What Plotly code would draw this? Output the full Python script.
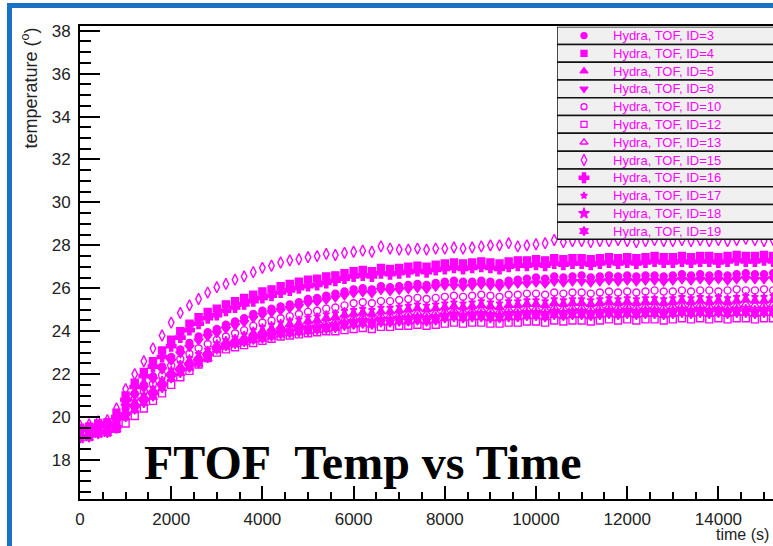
import plotly.graph_objects as go

# ---------------- data ----------------
time_s = [0, 200, 400, 600, 800, 1000, 1200, 1400, 1600, 1800,
          2000, 2200, 2400, 2600, 2800, 3000, 3200, 3400, 3600, 3800,
          4000, 4200, 4400, 4600, 4800, 5000, 5200, 5400, 5600, 5800,
          6000, 6200, 6400, 6600, 6800, 7000, 7200, 7400, 7600, 7800,
          8000, 8200, 8400, 8600, 8800, 9000, 9200, 9400, 9600, 9800,
          10000, 10200, 10400, 10600, 10800, 11000, 11200, 11400, 11600, 11800,
          12000, 12200, 12400, 12600, 12800, 13000, 13200, 13400, 13600, 13800,
          14000, 14200, 14400, 14600, 14800, 15000, 15200]

id3 = [19.3, 19.4, 19.55, 19.6, 19.9, 20.6, 21.1, 21.5, 21.9, 22.35,
       22.8, 23.15, 23.45, 23.75, 23.95, 24.1, 24.3, 24.45, 24.6, 24.8,
       24.95, 25.05, 25.15, 25.25, 25.35, 25.5, 25.55, 25.65, 25.75, 25.85,
       25.95, 26.0, 25.95, 26.1, 26.05, 26.1, 26.15, 26.2, 26.15, 26.25,
       26.3, 26.35, 26.3, 26.3, 26.35, 26.3, 26.25, 26.35, 26.4, 26.45,
       26.5, 26.45, 26.55, 26.5, 26.55, 26.6, 26.5, 26.55, 26.6, 26.55,
       26.6, 26.55, 26.6, 26.6, 26.55, 26.6, 26.65, 26.6, 26.65, 26.6,
       26.65, 26.6, 26.65, 26.7, 26.65, 26.65, 26.7]
id4 = [19.5, 19.55, 19.7, 19.75, 20.2, 21.0, 21.6, 22.1, 22.6, 23.1,
       23.6, 24.0, 24.35, 24.65, 24.9, 25.05, 25.25, 25.4, 25.55, 25.7,
       25.85, 25.95, 26.1, 26.2, 26.3, 26.4, 26.45, 26.55, 26.6, 26.7,
       26.8, 26.85, 26.8, 26.95, 26.9, 26.95, 27.0, 27.05, 27.0, 27.1,
       27.15, 27.2, 27.15, 27.2, 27.25, 27.2, 27.15, 27.25, 27.3, 27.3,
       27.35, 27.3, 27.4, 27.35, 27.4, 27.4, 27.35, 27.4, 27.45, 27.4,
       27.45, 27.4, 27.45, 27.5, 27.45, 27.45, 27.5, 27.45, 27.5, 27.5,
       27.45, 27.5, 27.55, 27.5, 27.5, 27.55, 27.5]
id5 = [19.1, 19.2, 19.35, 19.4, 19.6, 20.25, 20.65, 20.95, 21.25, 21.65,
       22.1, 22.35, 22.6, 22.8, 23.05, 23.35, 23.5, 23.6, 23.7, 23.9,
       24.0, 24.1, 24.2, 24.3, 24.35, 24.45, 24.5, 24.6, 24.65, 24.75,
       24.8, 24.85, 24.8, 24.9, 24.9, 24.95, 25.0, 25.05, 25.0, 25.05,
       25.1, 25.15, 25.1, 25.15, 25.2, 25.15, 25.1, 25.2, 25.2, 25.25,
       25.25, 25.2, 25.3, 25.25, 25.3, 25.3, 25.25, 25.3, 25.35, 25.3,
       25.35, 25.3, 25.35, 25.35, 25.3, 25.35, 25.4, 25.35, 25.4, 25.35,
       25.4, 25.35, 25.4, 25.45, 25.4, 25.4, 25.45]
id8 = [19.3, 19.35, 19.5, 19.55, 19.8, 20.5, 21.0, 21.35, 21.75, 22.2,
       22.6, 22.95, 23.25, 23.55, 23.75, 23.9, 24.1, 24.25, 24.4, 24.6,
       24.75, 24.85, 24.95, 25.05, 25.15, 25.3, 25.35, 25.45, 25.55, 25.65,
       25.75, 25.8, 25.75, 25.9, 25.85, 25.9, 25.95, 26.0, 25.95, 26.05,
       26.1, 26.1, 26.05, 26.1, 26.15, 26.1, 26.05, 26.15, 26.2, 26.2,
       26.25, 26.2, 26.3, 26.25, 26.3, 26.3, 26.25, 26.3, 26.35, 26.3,
       26.35, 26.3, 26.35, 26.35, 26.3, 26.35, 26.4, 26.35, 26.4, 26.35,
       26.4, 26.35, 26.4, 26.45, 26.4, 26.4, 26.45]
id10 = [19.2, 19.3, 19.45, 19.5, 19.7, 20.4, 20.85, 21.2, 21.55, 21.95,
        22.4, 22.7, 22.95, 23.2, 23.4, 23.6, 23.75, 23.9, 24.05, 24.25,
        24.4, 24.5, 24.6, 24.7, 24.8, 24.9, 24.95, 25.05, 25.1, 25.2,
        25.3, 25.35, 25.3, 25.4, 25.4, 25.45, 25.5, 25.55, 25.5, 25.55,
        25.6, 25.65, 25.6, 25.65, 25.7, 25.65, 25.6, 25.7, 25.7, 25.75,
        25.75, 25.7, 25.8, 25.75, 25.8, 25.8, 25.75, 25.8, 25.85, 25.8,
        25.85, 25.8, 25.85, 25.9, 25.85, 25.85, 25.9, 25.85, 25.9, 25.9,
        25.85, 25.9, 25.95, 25.9, 25.9, 25.95, 25.9]
id12 = [19.2, 19.25, 19.35, 19.4, 19.45, 19.7, 20.05, 20.4, 20.75, 21.1,
        21.5, 21.85, 22.15, 22.45, 22.75, 23.0, 23.15, 23.25, 23.35, 23.45,
        23.55, 23.65, 23.75, 23.8, 23.85, 23.9, 23.95, 24.0, 24.0, 24.05,
        24.1, 24.15, 24.1, 24.2, 24.2, 24.25, 24.25, 24.3, 24.25, 24.3,
        24.35, 24.4, 24.35, 24.4, 24.4, 24.35, 24.35, 24.4, 24.4, 24.45,
        24.45, 24.4, 24.5, 24.45, 24.5, 24.5, 24.45, 24.5, 24.55, 24.5,
        24.55, 24.5, 24.55, 24.55, 24.5, 24.55, 24.6, 24.55, 24.6, 24.55,
        24.6, 24.55, 24.6, 24.6, 24.55, 24.6, 24.6]
id13 = [19.1, 19.15, 19.3, 19.35, 19.55, 20.2, 20.55, 20.85, 21.15, 21.55,
        22.0, 22.25, 22.5, 22.7, 22.95, 23.25, 23.4, 23.5, 23.6, 23.75,
        23.85, 23.95, 24.05, 24.1, 24.2, 24.25, 24.3, 24.4, 24.45, 24.55,
        24.6, 24.65, 24.6, 24.7, 24.7, 24.75, 24.8, 24.85, 24.8, 24.85,
        24.9, 24.95, 24.9, 24.95, 25.0, 24.95, 24.9, 25.0, 25.0, 25.05,
        25.05, 25.0, 25.1, 25.05, 25.1, 25.1, 25.05, 25.1, 25.15, 25.1,
        25.15, 25.1, 25.15, 25.15, 25.1, 25.15, 25.2, 25.15, 25.2, 25.15,
        25.2, 25.15, 25.2, 25.25, 25.2, 25.2, 25.25]
id15 = [19.6, 19.65, 19.8, 19.85, 20.4, 21.3, 22.0, 22.6, 23.2, 23.8,
        24.4, 24.85, 25.2, 25.5, 25.8, 26.05, 26.2, 26.4, 26.55, 26.75,
        26.95, 27.05, 27.2, 27.3, 27.35, 27.45, 27.5, 27.6, 27.55, 27.65,
        27.7, 27.75, 27.7, 27.95, 27.85, 27.8, 27.8, 27.85, 27.8, 27.85,
        27.85, 27.9, 27.85, 27.9, 27.95, 28.0, 28.0, 28.1, 27.95, 28.0,
        28.05, 28.1, 28.25, 28.15, 28.2, 28.2, 28.15, 28.2, 28.2, 28.25,
        28.2, 28.15, 28.2, 28.25, 28.2, 28.2, 28.25, 28.2, 28.25, 28.2,
        28.25, 28.2, 28.25, 28.3, 28.25, 28.2, 28.25]
id16 = [19.4, 19.5, 19.6, 19.7, 20.0, 20.8, 21.4, 21.9, 22.35, 22.8,
        23.3, 23.7, 24.05, 24.35, 24.6, 24.75, 24.95, 25.1, 25.25, 25.4,
        25.55, 25.65, 25.8, 25.9, 26.0, 26.1, 26.15, 26.25, 26.35, 26.45,
        26.55, 26.6, 26.55, 26.7, 26.65, 26.7, 26.75, 26.8, 26.75, 26.85,
        26.9, 26.95, 26.9, 26.95, 27.0, 26.95, 26.9, 27.0, 27.05, 27.05,
        27.1, 27.05, 27.15, 27.1, 27.15, 27.15, 27.1, 27.15, 27.2, 27.15,
        27.2, 27.15, 27.2, 27.25, 27.2, 27.2, 27.25, 27.2, 27.25, 27.25,
        27.2, 27.25, 27.3, 27.25, 27.25, 27.3, 27.25]
id17 = [19.2, 19.25, 19.4, 19.45, 19.65, 20.35, 20.75, 21.05, 21.35, 21.75,
        22.2, 22.5, 22.75, 22.95, 23.15, 23.45, 23.6, 23.7, 23.85, 24.05,
        24.2, 24.3, 24.4, 24.5, 24.55, 24.65, 24.7, 24.8, 24.85, 24.95,
        25.0, 25.05, 25.0, 25.1, 25.1, 25.15, 25.2, 25.25, 25.2, 25.25,
        25.3, 25.35, 25.3, 25.35, 25.4, 25.35, 25.3, 25.4, 25.4, 25.45,
        25.45, 25.4, 25.5, 25.45, 25.5, 25.5, 25.45, 25.5, 25.55, 25.5,
        25.55, 25.5, 25.55, 25.55, 25.5, 25.55, 25.6, 25.55, 25.6, 25.55,
        25.6, 25.55, 25.6, 25.65, 25.6, 25.6, 25.65]
id18 = [19.0, 19.1, 19.25, 19.3, 19.5, 20.1, 20.45, 20.75, 21.05, 21.45,
        21.9, 22.15, 22.4, 22.6, 22.85, 23.2, 23.35, 23.45, 23.55, 23.65,
        23.75, 23.85, 23.95, 24.0, 24.1, 24.15, 24.2, 24.25, 24.3, 24.4,
        24.45, 24.5, 24.45, 24.55, 24.55, 24.6, 24.6, 24.65, 24.6, 24.65,
        24.75, 24.8, 24.75, 24.8, 24.8, 24.75, 24.75, 24.8, 24.8, 24.85,
        24.85, 24.8, 24.9, 24.85, 24.9, 24.9, 24.85, 24.9, 24.95, 24.9,
        24.95, 24.9, 24.95, 24.95, 24.9, 24.95, 25.0, 24.95, 25.0, 24.95,
        25.0, 24.95, 25.0, 25.0, 24.95, 25.0, 25.0]
id19 = [19.0, 19.05, 19.2, 19.25, 19.45, 20.0, 20.35, 20.65, 20.95, 21.35,
        21.8, 22.05, 22.3, 22.5, 22.75, 23.15, 23.3, 23.4, 23.5, 23.6,
        23.65, 23.75, 23.85, 23.9, 23.95, 24.0, 24.05, 24.1, 24.15, 24.25,
        24.3, 24.35, 24.3, 24.4, 24.4, 24.45, 24.45, 24.5, 24.45, 24.5,
        24.6, 24.65, 24.6, 24.65, 24.65, 24.6, 24.6, 24.65, 24.65, 24.7,
        24.7, 24.65, 24.75, 24.7, 24.75, 24.75, 24.7, 24.75, 24.8, 24.75,
        24.8, 24.75, 24.8, 24.8, 24.75, 24.8, 24.85, 24.8, 24.85, 24.8,
        24.85, 24.8, 24.85, 24.85, 24.8, 24.85, 24.85]

series_names = ["Hydra, TOF, ID=3", "Hydra, TOF, ID=4", "Hydra, TOF, ID=5",
                "Hydra, TOF, ID=8", "Hydra, TOF, ID=10", "Hydra, TOF, ID=12",
                "Hydra, TOF, ID=13", "Hydra, TOF, ID=15", "Hydra, TOF, ID=16",
                "Hydra, TOF, ID=17", "Hydra, TOF, ID=18", "Hydra, TOF, ID=19"]
series_values = [id3, id4, id5, id8, id10, id12, id13, id15, id16, id17, id18, id19]
series_symbols = ["circle", "square", "triangle-up", "triangle-down", "circle-open",
                  "square-open", "triangle-up-open", "diamond-tall-open", "cross",
                  "star", "star", "hexagram"]
series_sizes = [7, 7, 8, 8, 7, 7, 8, 8, 8, 5, 8, 7]

x_ticks = [0, 2000, 4000, 6000, 8000, 10000, 12000, 14000]
x_tick_labels = ["0", "2000", "4000", "6000", "8000", "10000", "12000", "14000"]
y_ticks = [18, 20, 22, 24, 26, 28, 30, 32, 34, 36, 38]

# ---------------- layout geometry (window pixels) ----------------
W, H = 773, 546
PLOT_L, PLOT_T, PLOT_B = 80, 26, 499   # window pixels of the frame
L, T, B, R = PLOT_L, PLOT_T, H - PLOT_B, 0
PW, PH = W - L - R, H - T - B
MAG = "#ff00ff"


def px_x(p):
    return (p - PLOT_L) / PW


def px_y(p):
    return (PLOT_B - p) / PH


fig = go.Figure()

for name, vals, sym, sz in zip(series_names, series_values, series_symbols, series_sizes):
    fig.add_trace(go.Scatter(
        x=time_s, y=vals, mode="markers", name=name, showlegend=False,
        marker=dict(symbol=sym, size=sz, color=MAG, line=dict(color=MAG, width=1.4)),
        xaxis="x", yaxis="y"))

# legend (drawn as a small overlay subplot)
n = len(series_names)
leg_x0, leg_x1 = px_x(557), 1.0
leg_y0, leg_y1 = px_y(240), px_y(26.7)
row_centers = [1 - (k + 0.5) / n for k in range(n)]
leg_sizes = [6, 6, 7, 7, 6, 6, 7, 8, 8, 5, 8, 7]
for k in range(n):
    fig.add_trace(go.Scatter(
        x=[0.125], y=[row_centers[k]], mode="markers", showlegend=False,
        marker=dict(symbol=series_symbols[k], size=leg_sizes[k], color=MAG,
                    line=dict(color=MAG, width=1.3)),
        xaxis="x2", yaxis="y2", hoverinfo="skip"))

shapes = []
for k in range(n):
    shapes.append(dict(type="rect", xref="x2", yref="y2", layer="below",
                       x0=0, x1=1.05, y0=1 - (k + 1) / n, y1=1 - k / n,
                       fillcolor="#f0f0f0", line=dict(color="#111111", width=1.5)))
shapes.append(dict(type="line", xref="x2", yref="y2", layer="below",
                   x0=0, x1=1.05, y0=0, y1=0, line=dict(color="#111111", width=3)))

# blue slide frame
BLUE = "#1a72c4"
shapes.append(dict(type="rect", xref="paper", yref="paper", layer="above",
                   x0=px_x(7), x1=px_x(12), y0=px_y(560), y1=px_y(3),
                   fillcolor=BLUE, line=dict(width=0)))
shapes.append(dict(type="rect", xref="paper", yref="paper", layer="above",
                   x0=px_x(7), x1=px_x(790), y0=px_y(8), y1=px_y(3),
                   fillcolor=BLUE, line=dict(width=0)))

annotations = []
for k in range(n):
    annotations.append(dict(xref="x2", yref="y2", x=0.25, y=row_centers[k],
                            text=series_names[k], showarrow=False, xanchor="left",
                            yanchor="middle",
                            font=dict(family="Liberation Sans, Arial", size=13, color=MAG)))

annotations.append(dict(xref="paper", yref="paper", x=px_x(142), y=px_y(462),
                        text="FTOF\u00a0 Temp vs Time", showarrow=False,
                        xanchor="left", yanchor="middle",
                        font=dict(family="Liberation Serif, Times New Roman", size=48,
                                  color="black", weight="bold")))
annotations.append(dict(xref="paper", yref="paper", x=px_x(30), y=px_y(26),
                        text="temperature (<sup>o</sup>)", textangle=-90, showarrow=False,
                        xanchor="center", yanchor="top",
                        font=dict(family="Liberation Sans, Arial", size=18, color="#222222")))
annotations.append(dict(xref="paper", yref="paper", x=px_x(771), y=px_y(534),
                        text="time (s)", showarrow=False,
                        xanchor="right", yanchor="middle",
                        font=dict(family="Liberation Sans, Arial", size=16, color="#222222")))

axis_font = dict(family="Liberation Sans, Arial", size=17, color="#222222")

fig.update_layout(
    width=W, height=H,
    margin=dict(l=L, r=R, t=T, b=B, pad=0),
    paper_bgcolor="white", plot_bgcolor="white",
    showlegend=False,
    shapes=shapes, annotations=annotations,
    xaxis=dict(range=[0, 15197], tickvals=x_ticks, ticktext=x_tick_labels,
               ticks="inside", ticklen=13,
               tickwidth=2, tickcolor="black", showline=True, linecolor="black",
               linewidth=2, mirror=True, showgrid=False, zeroline=False,
               tickfont=axis_font, ticklabelstandoff=4,
               minor=dict(dtick=500, ticks="inside", ticklen=7, tickwidth=2,
                          tickcolor="black", showgrid=False)),
    yaxis=dict(range=[16.18, 38.22], tickvals=y_ticks, ticks="inside", ticklen=20,
               tickwidth=2, tickcolor="black", showline=True, linecolor="black",
               linewidth=2, showgrid=False, zeroline=False,
               tickfont=axis_font, ticklabelstandoff=4,
               minor=dict(dtick=0.5, ticks="inside", ticklen=11, tickwidth=2,
                          tickcolor="black", showgrid=False)),
    xaxis2=dict(domain=[leg_x0, leg_x1], range=[0, 1], visible=False, fixedrange=True,
                anchor="y2"),
    yaxis2=dict(domain=[leg_y0, leg_y1], range=[0, 1], visible=False, fixedrange=True,
                anchor="x2"),
)

# the page's default 8px body margin would shift the figure; remove it
fig.write_html("out.html", config={"displayModeBar": False},
               post_script="document.body.style.margin='0';document.body.style.overflow='hidden';")
